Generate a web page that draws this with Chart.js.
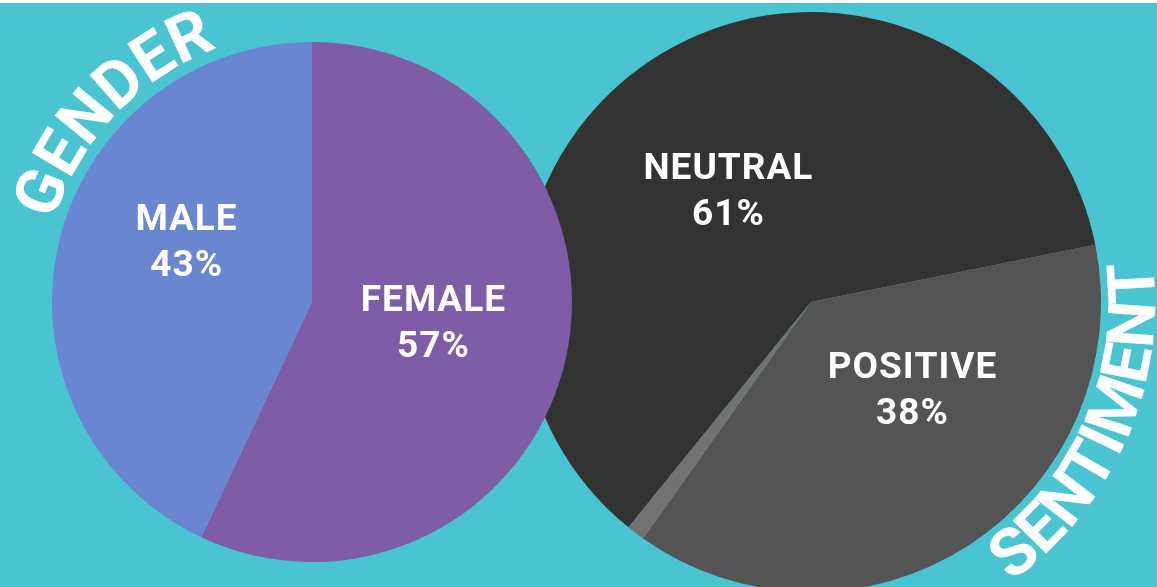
<!DOCTYPE html>
<html>
<head>
<meta charset="utf-8">
<script src="https://cdn.jsdelivr.net/npm/chart.js@4/dist/chart.umd.min.js"></script>
<style>
  html, body { margin: 0; padding: 0; }
  body {
    width: 1157px; height: 587px; overflow: hidden; position: relative;
    background: linear-gradient(#ffffff 0 3px, #4BC4D2 3px);
  }
  canvas { position: absolute; left: 0; top: 0; }
  #sentiment { z-index: 1; }
  #gender { z-index: 2; }
</style>
</head>
<body>
<canvas id="sentiment" width="1157" height="620"></canvas>
<canvas id="gender" width="1157" height="587"></canvas>
<script>
// Gender split
const genderLabels = ['FEMALE', 'MALE'];
const genderValues = [57, 43];
const genderColors = ['#7E5CA8', '#6A86D0'];

// Sentiment split
const sentimentLabels = ['NEUTRAL', 'POSITIVE', 'NEGATIVE'];
const sentimentValues = [61, 38, 1];
const sentimentColors = ['#333333', '#545454', '#727272'];
const sentimentShown = [true, true, false];

// Nudges of each slice label from the slice centroid (px)
const genderLabelShift = [[-6, -6], [1, -30]];
const sentimentLabelShift = [[-8, 15], [22, -32], [0, 0]];

const FONT = 'Roboto, "Liberation Sans", sans-serif';

// Writes text letter by letter along a circle around (cx, cy).
// angleDeg is measured clockwise from 12 o'clock; letters face outward
// and run clockwise unless inward is set (then they run counter-clockwise).
function arcText(ctx, text, cx, cy, radius, angleDeg, size, inward) {
  ctx.save();
  ctx.font = 'bold ' + size + 'px ' + FONT;
  ctx.fillStyle = '#ffffff';
  ctx.textAlign = 'center';
  ctx.textBaseline = 'alphabetic';
  const total = ctx.measureText(text).width;
  const mid = angleDeg * Math.PI / 180;
  const dir = inward ? -1 : 1;
  let start = mid - dir * (total / 2) / radius;
  let acc = 0;
  for (const ch of text) {
    const w = ctx.measureText(ch).width;
    const a = start + dir * (acc + w / 2) / radius;
    ctx.save();
    ctx.translate(cx + radius * Math.sin(a), cy - radius * Math.cos(a));
    ctx.rotate(inward ? a + Math.PI : a);
    ctx.fillText(ch, 0, 0);
    ctx.restore();
    acc += w;
  }
  ctx.restore();
}

// Writes one centred line with a little extra tracking.
function trackedText(ctx, text, x, y, spacing) {
  const widths = Array.from(text, ch => ctx.measureText(ch).width);
  const total = widths.reduce((s, w) => s + w, 0) + spacing * (widths.length - 1);
  let cx = x - total / 2;
  Array.from(text).forEach((ch, i) => {
    ctx.fillText(ch, cx + widths[i] / 2, y);
    cx += widths[i] + spacing;
  });
}

function sliceLabels(labels, values, shifts, shown) {
  return {
    id: 'sliceLabels',
    afterDatasetsDraw(chart) {
      const ctx = chart.ctx;
      const arcs = chart.getDatasetMeta(0).data;
      ctx.save();
      ctx.font = 'bold 37px ' + FONT;
      ctx.fillStyle = '#ffffff';
      ctx.textAlign = 'center';
      ctx.textBaseline = 'middle';
      arcs.forEach((arc, i) => {
        if (shown && !shown[i]) return;
        const p = arc.getCenterPoint();
        const x = p.x + shifts[i][0];
        const y = p.y + shifts[i][1];
        trackedText(ctx, labels[i], x, y - 23, 1);
        trackedText(ctx, values[i] + '%', x, y + 23, 1);
      });
      ctx.restore();
    }
  };
}

function titleArc(text, radiusExtra, angleDeg, size, inward) {
  return {
    id: 'titleArc',
    afterDraw(chart) {
      const arc = chart.getDatasetMeta(0).data[0];
      arcText(chart.ctx, text, arc.x, arc.y, arc.outerRadius + radiusExtra, angleDeg, size, inward);
    }
  };
}

function baseOptions(padding, rotation) {
  return {
    responsive: false,
    animation: false,
    rotation: rotation,
    layout: { padding: padding },
    plugins: { legend: { display: false }, tooltip: { enabled: false } }
  };
}

function build() {
  new Chart(document.getElementById('sentiment'), {
    type: 'pie',
    data: {
      labels: sentimentLabels,
      datasets: [{ data: sentimentValues, backgroundColor: sentimentColors, borderWidth: 0 }]
    },
    options: baseOptions({ left: 521, right: 56, top: 12, bottom: 28 }, 219),
    plugins: [
      sliceLabels(sentimentLabels, sentimentValues, sentimentLabelShift, sentimentShown),
      titleArc('SENTIMENT', 54, 114, 66, true)
    ]
  });

  new Chart(document.getElementById('gender'), {
    type: 'pie',
    data: {
      labels: genderLabels,
      datasets: [{ data: genderValues, backgroundColor: genderColors, borderWidth: 0 }]
    },
    options: baseOptions({ left: 52, right: 585, top: 42, bottom: 25 }, 0),
    plugins: [
      sliceLabels(genderLabels, genderValues, genderLabelShift),
      titleArc('GENDER', 11, -46.5, 65, false)
    ]
  });
}

if (document.fonts && document.fonts.load) {
  document.fonts.load('bold 32px Roboto').then(build, build);
} else {
  build();
}
</script>
</body>
</html>
